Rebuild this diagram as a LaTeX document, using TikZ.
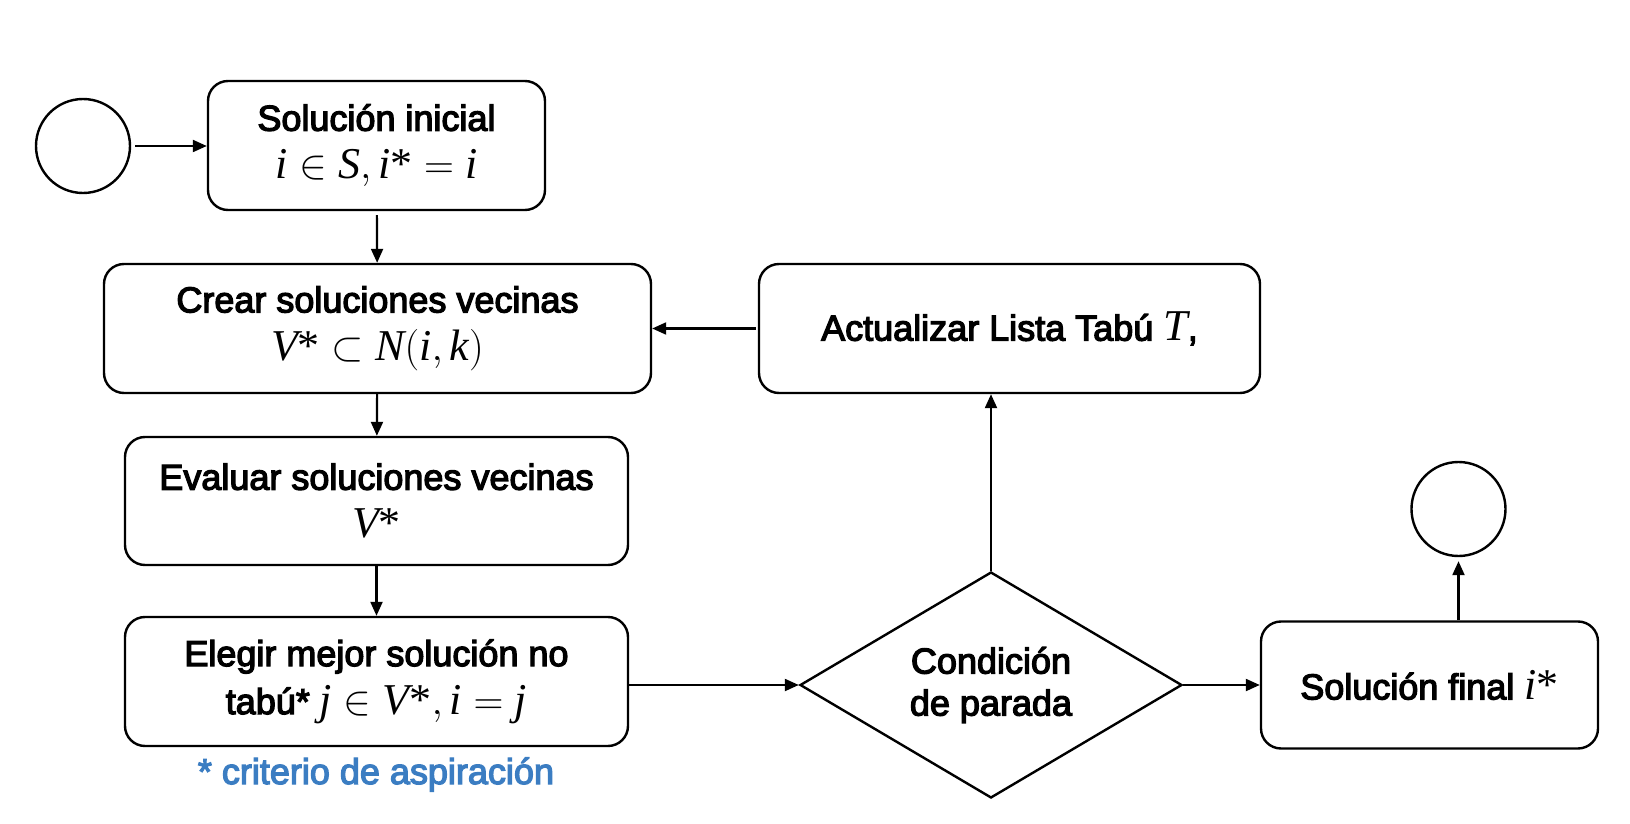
\documentclass[tikz,border=0pt]{standalone}
\usepackage[no-math]{fontspec}
\setmainfont{Liberation Sans}[RawFeature={embolden=3.5}]
\newfontfamily\tms{Liberation Serif}
\usetikzlibrary{shapes.geometric,arrows.meta}
\definecolor{noteblue}{RGB}{59,125,194}
\newcommand{\mth}[1]{{\fontsize{22}{24}\selectfont$#1$}}
\newcommand{\mv}[1]{\mbox{\tms\itshape #1}}
\newcommand{\st}{\mbox{\tms *}}
\begin{document}
\begin{tikzpicture}[x=0.5pt,y=-0.5pt,
  box/.style={draw, line width=1.2pt, rounded corners=10pt, align=center,
    font=\fontsize{18}{24}\selectfont, inner sep=0pt},
  term/.style={draw, line width=1.2pt, circle, minimum size=47pt, inner sep=0pt},
  dec/.style={draw, line width=1.2pt, diamond, aspect=1.69, minimum width=191pt,
    minimum height=113pt, inner sep=0pt, align=center, font=\fontsize{18}{21}\selectfont},
  arr/.style={line width=1.1pt, -{Triangle[length=7pt,width=6pt]}},
  note/.style={text=noteblue, font=\fontsize{18}{22}\selectfont}
]
\useasboundingbox (0,0) rectangle (1630,824);
\node[term] (start) at (83,146) {};
\node[box, minimum width=168.5pt, minimum height=64.5pt] (init) at (376.5,145.5)
  {Solución inicial\\\mth{\mv{i}\in \mv{S}, \mv{i}\st=\mv{i}}};
\node[box, minimum width=273.5pt, minimum height=64.5pt] (crear) at (377.5,328.5)
  {Crear soluciones vecinas\\\mth{\mv{V}\st\subset \mv{N}(\mv{i},\mv{k})}};
\node[box, minimum width=250.5pt, minimum height=64.5pt] (act) at (1009.5,328.5)
  {Actualizar Lista Tabú {\fontsize{22}{24}\selectfont\mv{T}},};
\node[box, minimum width=251.5pt, minimum height=64pt] (eval) at (376.5,501)
  {Evaluar soluciones vecinas\\\mth{\mv{V}\st}};
\node[box, minimum width=251.5pt, minimum height=64.5pt] (eleg) at (376.5,681.5)
  {Elegir mejor solución no\\tabú* \mth{\mv{j}\in \mv{V}\st, \mv{i}=\mv{j}}};
\node[dec] (cond) at (991,685) {Condición\\de parada};
\node[box, minimum width=168.5pt, minimum height=63.5pt] (final) at (1429.5,685)
  {Solución final \mth{\mv{i}\st}};
\node[term] (end) at (1458.5,509) {};
\node[note] (asp) at (376,774.5) {* criterio de aspiración};

\draw[arr, shorten <=2pt] (start.east) -- (start.east -| init.west);
\draw[arr, shorten <=2pt] (init) -- (crear);
\draw[arr, shorten <=1pt] (act.west |- crear.east) -- (crear.east);
\draw[arr] (crear) -- (eval);
\draw[arr] (eval) -- (eleg);
\draw[arr] (eleg.east |- cond.west) -- (cond.west);
\draw[arr] (cond.north) -- (cond.north |- act.south);
\draw[arr] (cond.east) -- (final.west |- cond.east);
\draw[arr, shorten >=2pt] (final.north -| end) -- (end.south);
\end{tikzpicture}
\end{document}
